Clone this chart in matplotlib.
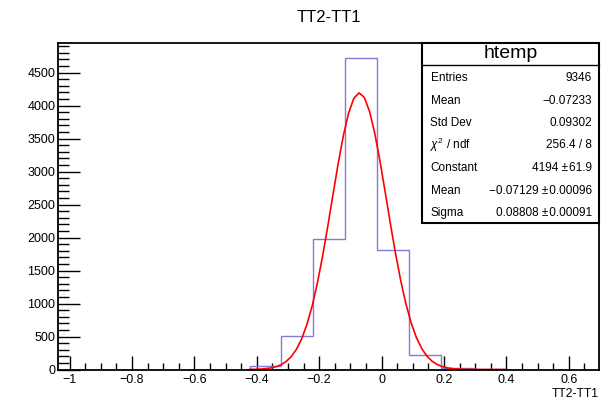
import numpy as np
import matplotlib
matplotlib.use("Agg")
import matplotlib.pyplot as plt
from matplotlib.ticker import MultipleLocator, FuncFormatter
from matplotlib.patches import Rectangle
from matplotlib.lines import Line2D

plt.rcParams['font.family'] = ['Liberation Sans', 'DejaVu Sans']
plt.rcParams['mathtext.fontset'] = 'custom'
plt.rcParams['mathtext.it'] = 'Liberation Sans:italic'
plt.rcParams['mathtext.rm'] = 'Liberation Sans'

# Histogram data (bin edges and counts)
bin_edges = [-0.423, -0.321, -0.219, -0.116, -0.013, 0.089, 0.191, 0.294, 0.396]
counts = [56, 510, 1975, 4718, 1813, 223, 30, 15]

# Gaussian fit parameters
fit_const = 4194.0
fit_mean = -0.07129
fit_sigma = 0.08808

title = "TT2-TT1"
xlabel = "TT2-TT1"
stats_title = "htemp"
stats_rows = [
    ("Entries", "9346"),
    ("Mean", "\u22120.07233"),
    ("Std Dev", "0.09302"),
    (r"$\chi^{2}$ / ndf", "256.4 / 8"),
    ("Constant", "4194 \u00b1\u200a61.9"),
    ("Mean", "\u22120.07129 \u00b1\u200a0.00096"),
    ("Sigma", "0.08808 \u00b1\u200a0.00091"),
]

W, H = 601, 400
fig = plt.figure(figsize=(W / 100, H / 100), dpi=100)
L, R, T, B = 58, 599, 43, 369.5
ax = fig.add_axes([L / W, 1 - B / H, (R - L) / W, (B - T) / H])

xmin, xmax = -1.037, 0.697
ymax = 4950

ax.stairs(counts, bin_edges, color='#7d7ddb', linewidth=1.0, zorder=2)
xs = np.linspace(bin_edges[0], bin_edges[-1], 50)
ys = fit_const * np.exp(-0.5 * ((xs - fit_mean) / fit_sigma) ** 2)
ax.plot(xs, ys, color='#ff0000', linewidth=1.2, zorder=2)

ax.set_xlim(xmin, xmax)
ax.set_ylim(0, ymax)

ax.xaxis.set_major_locator(MultipleLocator(0.2))
ax.xaxis.set_minor_locator(MultipleLocator(0.05))
ax.yaxis.set_major_locator(MultipleLocator(500))
ax.yaxis.set_minor_locator(MultipleLocator(100))

def fmt(v, pos):
    if abs(v) < 1e-9:
        return "0"
    s = "%g" % round(v, 3)
    return s.replace("-", "\u2212")

ax.xaxis.set_major_formatter(FuncFormatter(fmt))
ax.yaxis.set_major_formatter(FuncFormatter(lambda v, p: "%d" % round(v)))

ax.tick_params(axis='x', which='major', direction='in', length=10, width=1, labelsize=9, pad=3, top=False)
ax.tick_params(axis='x', which='minor', direction='in', length=5, width=1, top=False)
ax.tick_params(axis='y', which='major', direction='in', length=16, width=1, labelsize=9, pad=2, right=False)
ax.tick_params(axis='y', which='minor', direction='in', length=8, width=1, right=False)
for sp in ax.spines.values():
    sp.set_linewidth(1.3)
    sp.set_zorder(4)

fig.text((L + R) / 2 / W, 1 - 17 / H, title, ha='center', va='center', fontsize=12)
fig.text(599 / W, 1 - 394 / H, xlabel, ha='right', va='center', fontsize=8.7)

# Stats box
bx0, bx1, by0, by1, bsep = 422, 599, 43.3, 222.7, 65
fig.patches.append(Rectangle((bx0 / W, 1 - by1 / H), (bx1 - bx0) / W, (by1 - by0) / H,
                             transform=fig.transFigure, facecolor='white', edgecolor='black',
                             linewidth=1.5, zorder=5))
fig.lines.append(Line2D([bx0 / W, bx1 / W], [1 - bsep / H, 1 - bsep / H],
                        transform=fig.transFigure, color='black', linewidth=1.0, zorder=6))
fig.text(511 / W, 1 - 53 / H, stats_title, ha='center', va='center', fontsize=14, zorder=7)
row_y = [77.7, 101, 122.7, 145, 168, 191.5, 213.3]
for (lab, val), yy in zip(stats_rows, row_y):
    fig.text(430.5 / W, 1 - yy / H, lab, ha='left', va='center', fontsize=8.5, zorder=7)
    fig.text(592 / W, 1 - yy / H, val, ha='right', va='center', fontsize=8.5, zorder=7)

fig.savefig("out.png", dpi=100)
